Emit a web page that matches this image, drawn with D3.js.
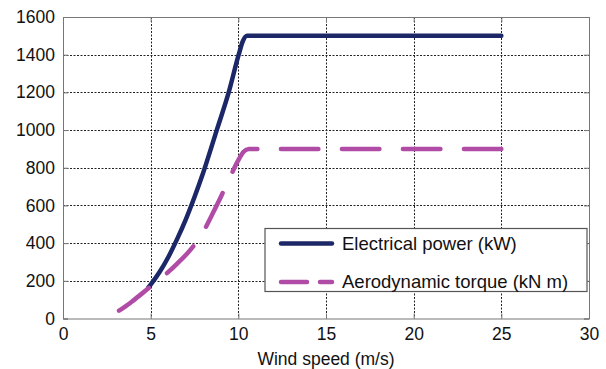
<!DOCTYPE html>
<html><head><meta charset="utf-8">
<script src="https://cdn.jsdelivr.net/npm/d3@7"></script>
<style>html,body{margin:0;padding:0;background:#fff;}svg{display:block;}</style>
</head><body>
<svg id="chart" width="606" height="369"></svg>
<script>
// Data
const powerWind   = [4.87, 5.0, 5.5, 6.0, 6.5, 7.0, 7.5, 8.0, 8.77, 9.45, 10.02, 10.25, 10.5, 25];
const powerValues = [165, 180, 245, 325, 420, 525, 645, 775, 1000, 1200, 1400, 1470, 1500, 1500];
const torqueWind   = [2.95, 3.5, 4, 4.5, 5, 5.7, 6.5, 7.3, 8, 8.5, 9, 9.5, 10, 10.3, 10.6, 25];
const torqueValues = [27, 60, 95, 132, 170, 222, 290, 368, 460, 550, 645, 745, 840, 885, 900, 900];
const xTicks = [0, 5, 10, 15, 20, 25, 30];
const yTicks = [0, 200, 400, 600, 800, 1000, 1200, 1400, 1600];
const seriesNames = ["Electrical power (kW)", "Aerodynamic torque (kN m)"];
const xLabel = "Wind speed (m/s)";

const powerColor = "#1c2767", torqueColor = "#b04ca6";
const svg = d3.select("#chart");
const L = 63, R = 589, T = 17, B = 318.5;
const x = d3.scaleLinear().domain([0, 30]).range([L, R]);
const y = d3.scaleLinear().domain([0, 1600]).range([B, T]);
const font = "Liberation Sans, Arial, sans-serif";

// grid
const grid = svg.append("g");
grid.selectAll("line.gx").data(xTicks.slice(1, -1)).join("line")
  .attr("x1", d => Math.round(x(d)) + 0.5).attr("x2", d => Math.round(x(d)) + 0.5).attr("y1", T).attr("y2", B)
  .attr("stroke", "#222").attr("stroke-width", 1).attr("stroke-dasharray", "2,1.5");
grid.selectAll("line.gy").data(yTicks.slice(1, -1)).join("line")
  .attr("x1", L).attr("x2", R).attr("y1", d => Math.round(y(d)) + 0.5).attr("y2", d => Math.round(y(d)) + 0.5)
  .attr("stroke", "#222").attr("stroke-width", 1).attr("stroke-dasharray", "2,1.5");

// axes
const fmt = d3.format("d");
const xAxis = d3.axisBottom(x).tickValues(xTicks).tickSize(-5).tickPadding(9).tickFormat(fmt);
const yAxis = d3.axisLeft(y).tickValues(yTicks).tickSize(-5).tickPadding(8).tickFormat(fmt);
const gx = svg.append("g").attr("transform", `translate(0,${B})`).call(xAxis);
const gy = svg.append("g").attr("transform", `translate(${L},0)`).call(yAxis);
svg.append("g").attr("transform", `translate(0,${T})`).call(d3.axisTop(x).tickValues(xTicks).tickSize(-5).tickFormat(""));
svg.append("g").attr("transform", `translate(${R},0)`).call(d3.axisRight(y).tickValues(yTicks).tickSize(-5).tickFormat(""));
svg.selectAll(".domain").attr("stroke", "#777");
svg.selectAll(".tick line").attr("stroke", "#777");
svg.selectAll(".tick text").attr("font-family", font).attr("font-size", 17.5).attr("fill", "#111");
gx.selectAll(".tick text").attr("dy", "0.71em");

// lines
const line = d3.line().x(d => x(d[0])).y(d => y(d[1])).curve(d3.curveMonotoneX);
svg.append("path").datum(powerWind.map((w, i) => [w, powerValues[i]]))
  .attr("d", line).attr("fill", "none").attr("stroke", powerColor)
  .attr("stroke-width", 4.5).attr("stroke-linejoin", "round").attr("stroke-linecap", "round");
const tp = svg.append("path").datum(torqueWind.map((w, i) => [w, torqueValues[i]]))
  .attr("d", line).attr("fill", "none").attr("stroke", torqueColor)
  .attr("stroke-width", 4.5).attr("stroke-linecap", "round").attr("stroke-linejoin", "round");
const dashLen = 37.5, gapLen = 23.5;
const totalLen = tp.node().getTotalLength();
tp.attr("stroke-dasharray", `${dashLen},${gapLen}`)
  .attr("stroke-dashoffset", dashLen - (totalLen % (dashLen + gapLen)));

// legend
const lg = svg.append("g");
lg.append("rect").attr("x", 265).attr("y", 228.5).attr("width", 322).attr("height", 63)
  .attr("fill", "#fff").attr("stroke", "#555").attr("stroke-width", 1.2);
const ly = [243.5, 282];
lg.append("line").attr("x1", 281).attr("x2", 332).attr("y1", ly[0]).attr("y2", ly[0])
  .attr("stroke", powerColor).attr("stroke-width", 4.5).attr("stroke-linecap", "round");
lg.append("line").attr("x1", 281).attr("x2", 332).attr("y1", ly[1]).attr("y2", ly[1])
  .attr("stroke", torqueColor).attr("stroke-width", 4.5).attr("stroke-dasharray", "26,13").attr("stroke-linecap", "round");
lg.selectAll("text").data(seriesNames).join("text")
  .attr("x", 342).attr("y", (d, i) => ly[i]).attr("dy", "0.35em")
  .attr("font-family", font).attr("font-size", 18.5).attr("fill", "#111").text(d => d);

// x label
svg.append("text").attr("x", (L + R) / 2).attr("y", 365).attr("text-anchor", "middle")
  .attr("font-family", font).attr("font-size", 17.5).attr("fill", "#111").text(xLabel);
</script>
</body></html>
